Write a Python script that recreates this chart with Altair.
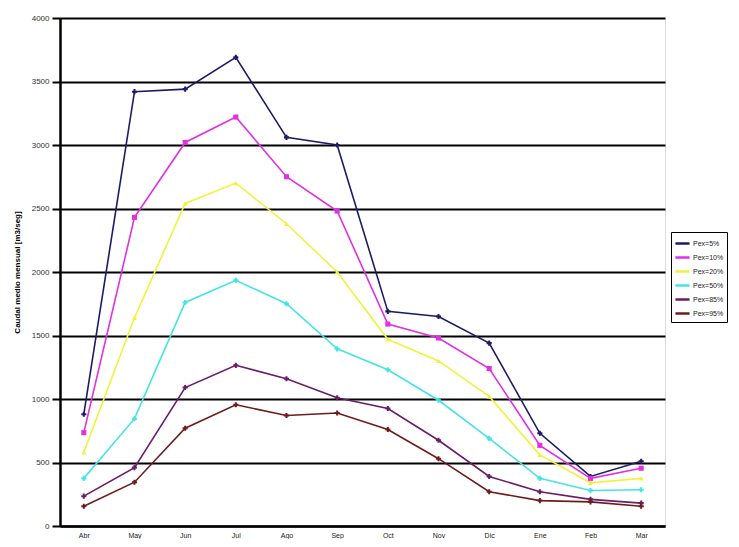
import altair as alt
import pandas as pd

months = ["Abr", "May", "Jun", "Jul", "Ago", "Sep", "Oct", "Nov", "Dic", "Ene", "Feb", "Mar"]
series = ["Pex=5%", "Pex=10%", "Pex=20%", "Pex=50%", "Pex=85%", "Pex=95%"]
pex5 = [880, 3420, 3440, 3690, 3060, 3000, 1690, 1650, 1440, 730, 390, 510]
pex10 = [735, 2430, 3020, 3220, 2750, 2480, 1590, 1480, 1240, 635, 375, 455]
pex20 = [580, 1640, 2540, 2700, 2380, 2000, 1470, 1300, 1020, 560, 340, 375]
pex50 = [375, 845, 1760, 1935, 1750, 1395, 1230, 990, 690, 375, 280, 285]
pex85 = [235, 460, 1090, 1265, 1160, 1010, 925, 675, 390, 270, 210, 180]
pex95 = [155, 345, 770, 955, 870, 890, 760, 530, 270, 200, 190, 155]
colors = ["#1c1c66", "#e030e0", "#f2f23c", "#44e4e4", "#6a1c6a", "#6e1c1c"]
shapes = ["cross", "square", "triangle-up", "cross", "cross", "cross"]
y_ticks = [0, 500, 1000, 1500, 2000, 2500, 3000, 3500, 4000]

rows = []
for name, vals in zip(series, [pex5, pex10, pex20, pex50, pex85, pex95]):
    for m, v in zip(months, vals):
        rows.append({"Mes": m, "Serie": name, "Caudal": v})
df = pd.DataFrame(rows)

x = alt.X("Mes:N", sort=months, scale=alt.Scale(type="point", padding=0.47),
          axis=alt.Axis(title=None, ticks=False, labelAngle=0, labelFontSize=7,
                        labelPadding=5, labelColor="#222", domainColor="black",
                        domainWidth=2.5, grid=False, labelFont="Liberation Sans"))
y = alt.Y("Caudal:Q", scale=alt.Scale(domain=[0, 4000], nice=False),
          axis=alt.Axis(title="Caudal   medio   mensual   [m3/seg]", values=y_ticks,
                        format="d",
                        titleFontSize=8, titleFont="Liberation Sans", titleFontWeight="bold",
                        titlePadding=10, labelFontSize=8, labelColor="#333",
                        labelFont="Liberation Sans", labelPadding=3,
                        tickSize=8, tickWidth=2, tickColor="black",
                        grid=True, gridColor="black", gridWidth=2, gridOpacity=1,
                        domainColor="black", domainWidth=2.5))
color = alt.Color("Serie:N", sort=series, scale=alt.Scale(domain=series, range=colors),
                  legend=alt.Legend(title=None, orient="none", legendX=611, legendY=214,
                                    strokeColor="black", padding=3,
                                    symbolType="stroke", symbolStrokeWidth=2.5,
                                    symbolSize=200, labelFontSize=7,
                                    labelFont="Liberation Sans", labelColor="#222",
                                    rowPadding=0, labelOffset=2, fillColor="white"))

lines = alt.Chart(df).mark_line(strokeWidth=1.6).encode(x=x, y=y, color=color)
points = alt.Chart(df).mark_point(filled=True, size=26, opacity=1).encode(
    x=x, y=y,
    color=alt.Color("Serie:N", sort=series, scale=alt.Scale(domain=series, range=colors), legend=None),
    shape=alt.Shape("Serie:N", sort=series, scale=alt.Scale(domain=series, range=shapes), legend=None),
)

chart = alt.layer(lines, points).resolve_scale(
    color="independent", shape="independent"
).resolve_legend(color="independent", shape="independent").properties(
    width=605, height=508,
    autosize="none",
    padding={"left": 52, "top": 10, "right": 66, "bottom": 13},
).configure_view(stroke=None).configure_legend(strokeWidth=2).configure(background="white")

chart.save("out.html", embed_options={"renderer": "svg", "actions": False})
